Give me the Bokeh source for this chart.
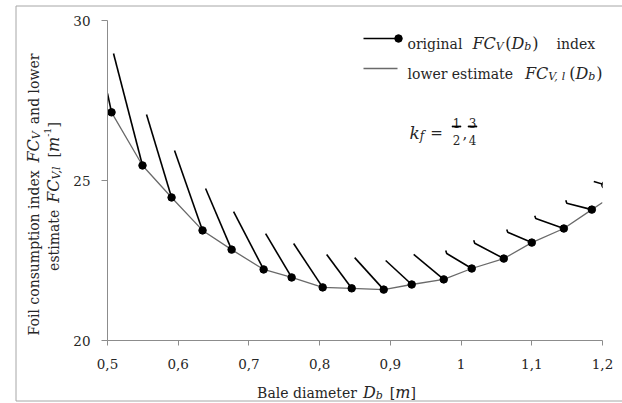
import math, glob, struct
from bokeh.plotting import figure
from bokeh.models import FixedTicker, Range1d
from bokeh.core.properties import value
from bokeh.embed import file_html
from bokeh.resources import INLINE

# ---------------- data ----------------
x_ticks = [0.5, 0.6, 0.7, 0.8, 0.9, 1.0, 1.1, 1.2]
x_tick_labels = ["0,5", "0,6", "0,7", "0,8", "0,9", "1", "1,1", "1,2"]
y_ticks = [20, 25, 30]
y_tick_labels = ["20", "25", "30"]

# original FC_V(D_b): one decreasing branch per segment, ending in a marker
seg_D = [
    [0.5000, 0.5057],
    [0.5085, 0.5495],
    [0.5552, 0.5906],
    [0.5948, 0.6344],
    [0.6387, 0.6755],
    [0.6783, 0.7208],
    [0.7236, 0.7604],
    [0.7632, 0.8043],
    [0.8099, 0.8453],
    [0.8495, 0.8906],
    [0.8934, 0.9302],
    [0.9330, 0.9755],
    [0.9783, 0.9797, 1.0151],
    [1.0179, 1.0193, 1.0604],
    [1.0646, 1.0660, 1.1000],
    [1.1042, 1.1056, 1.1453],
    [1.1481, 1.1495, 1.1849],
    [1.1877, 1.2040],
]
seg_FC = [
    [27.72, 27.13],
    [28.97, 25.47],
    [27.06, 24.47],
    [25.94, 23.44],
    [24.75, 22.84],
    [24.03, 22.22],
    [23.34, 21.97],
    [23.03, 21.66],
    [22.69, 21.63],
    [22.59, 21.59],
    [22.50, 21.75],
    [22.69, 21.91],
    [22.81, 22.72, 22.25],
    [23.13, 23.04, 22.56],
    [23.47, 23.38, 23.06],
    [23.90, 23.81, 23.50],
    [24.38, 24.29, 24.09],
    [24.97, 24.86],
]
dot_D = [0.5057, 0.5495, 0.5906, 0.6344, 0.6755, 0.7208, 0.7604, 0.8043, 0.8453,
         0.8906, 0.9302, 0.9755, 1.0151, 1.0604, 1.1000, 1.1453, 1.1849, 1.2040]
dot_FC = [27.13, 25.47, 24.47, 23.44, 22.84, 22.22, 21.97, 21.66, 21.63,
          21.59, 21.75, 21.91, 22.25, 22.56, 23.06, 23.50, 24.09, 24.86]

# lower estimate FC_V,l(D_b)
lower_D = [0.5057, 0.5495, 0.5906, 0.6344, 0.6755, 0.7208, 0.7604, 0.8043, 0.8453,
           0.8906, 0.9302, 0.9755, 1.0151, 1.0604, 1.1000, 1.1453, 1.1849, 1.2000]
lower_FC = [27.13, 25.47, 24.47, 23.44, 22.84, 22.22, 21.97, 21.66, 21.63,
            21.59, 21.75, 21.91, 22.25, 22.56, 23.06, 23.50, 24.09, 24.31]

# ---------------- layout (page pixels) ----------------
FX0, FX1, FY0, FY1 = 107, 602, 20, 340      # plot frame on the page
XMIN, XMAX, YMIN, YMAX = 0.5, 1.2, 20, 30
W_FIG, H_FIG = 622, 403

def dx(px):
    return XMIN + (px - FX0) / (FX1 - FX0) * (XMAX - XMIN)

def dy(py):
    return YMAX - (py - FY0) / (FY1 - FY0) * (YMAX - YMIN)

TXT = "#262626"
FONT = "DejaVu Serif"

p = figure(width=W_FIG, height=H_FIG,
           x_range=Range1d(XMIN, XMAX), y_range=Range1d(YMIN, YMAX),
           output_backend="svg", toolbar_location=None,
           min_border_left=FX0, min_border_right=W_FIG - FX1,
           min_border_top=FY0, min_border_bottom=H_FIG - FY1)
p.outline_line_color = None
p.xgrid.visible = False
p.ygrid.visible = False
p.background_fill_color = "white"
p.border_fill_color = "white"

for ax in (p.xaxis[0], p.yaxis[0]):
    ax.axis_line_color = "#8c8c8c"
    ax.major_tick_line_color = "#8c8c8c"
    ax.minor_tick_line_color = None
    ax.major_tick_in = 0
    ax.major_label_text_font = FONT
    ax.major_label_text_font_size = "13.5px"
    ax.major_label_text_color = TXT
p.xaxis.major_tick_out = 5
p.yaxis.major_tick_out = 6
p.xaxis.major_label_standoff = 13
p.yaxis.major_label_standoff = 11
p.xaxis.ticker = FixedTicker(ticks=x_ticks)
p.yaxis.ticker = FixedTicker(ticks=y_ticks)
p.xaxis.major_label_overrides = {t: s for t, s in zip(x_ticks, x_tick_labels)}
p.yaxis.major_label_overrides = {t: s for t, s in zip(y_ticks, y_tick_labels)}

# outer chart-area border (top, left, bottom edges)
p.line([dx(622), dx(15.5), dx(15.5), dx(622)], [dy(5.5), dy(5.5), dy(400.5), dy(400.5)],
       line_color="#a6a6a6", line_width=1, level="overlay")

# ---------------- marks ----------------
p.line(lower_D, lower_FC, line_color="#6a6a6a", line_width=1.3)
p.multi_line(seg_D, seg_FC, line_color="black", line_width=1.6)
p.scatter(dot_D, dot_FC, size=7.5, fill_color="black", line_color="black")

# ---------------- text width measurement (font file, fallback table) ----------------
W = {'a': .596, 'b': .640, 'c': .561, 'd': .640, 'e': .592, 'f': .370, 'g': .640, 'h': .644,
     'i': .320, 'k': .610, 'l': .320, 'm': .948, 'n': .644, 'o': .602, 'p': .640, 'r': .478,
     's': .513, 't': .402, 'u': .644, 'w': .856, 'x': .564, ' ': .318, 'B': .733, 'C': .733,
     'D': .830, 'F': .669, 'V': .722, '[': .390, ']': .390, '(': .390, ')': .390, ',': .318,
     '-': .338, '=': .838, '1': .636, '2': .636, '3': .636, '4': .636}

def load_widths(path):
    data = open(path, "rb").read()
    n_tab = struct.unpack(">H", data[4:6])[0]
    tabs = {}
    for i in range(n_tab):
        tag, _, off, ln = struct.unpack(">4sIII", data[12 + 16 * i: 28 + 16 * i])
        tabs[tag.decode("latin1")] = off
    upem = struct.unpack(">H", data[tabs["head"] + 18: tabs["head"] + 20])[0]
    nhm = struct.unpack(">H", data[tabs["hhea"] + 34: tabs["hhea"] + 36])[0]
    ho = tabs["hmtx"]
    adv = [struct.unpack(">H", data[ho + 4 * i: ho + 4 * i + 2])[0] for i in range(nhm)]
    co = tabs["cmap"]
    nsub = struct.unpack(">H", data[co + 2: co + 4])[0]
    sub = None
    for i in range(nsub):
        pid, eid, so = struct.unpack(">HHI", data[co + 4 + 8 * i: co + 12 + 8 * i])
        if struct.unpack(">H", data[co + so: co + so + 2])[0] == 4 and (pid, eid) in ((3, 1), (0, 3), (0, 4)):
            sub = co + so
            break
    segx2 = struct.unpack(">H", data[sub + 6: sub + 8])[0]
    ns = segx2 // 2
    ends = struct.unpack(f">{ns}H", data[sub + 14: sub + 14 + segx2])
    starts = struct.unpack(f">{ns}H", data[sub + 16 + segx2: sub + 16 + 2 * segx2])
    deltas = struct.unpack(f">{ns}h", data[sub + 16 + 2 * segx2: sub + 16 + 3 * segx2])
    rpos = sub + 16 + 3 * segx2
    roffs = struct.unpack(f">{ns}H", data[rpos: rpos + segx2])

    def gid(c):
        for i in range(ns):
            if ends[i] >= c:
                if starts[i] > c:
                    return 0
                if roffs[i] == 0:
                    return (c + deltas[i]) & 0xFFFF
                a = rpos + 2 * i + roffs[i] + 2 * (c - starts[i])
                g = struct.unpack(">H", data[a: a + 2])[0]
                return (g + deltas[i]) & 0xFFFF if g else 0
        return 0

    return lambda ch: adv[min(gid(ord(ch)), nhm - 1)] / upem

MEAS = {}
for style, name in (("normal", "DejaVuSerif.ttf"), ("italic", "DejaVuSerif-Italic.ttf")):
    try:
        f = glob.glob("/usr/share/fonts/**/" + name, recursive=True)
        if f:
            MEAS[style] = load_widths(f[0])
    except Exception:
        pass

def tw(s, size, style="normal"):
    fn = MEAS.get(style) or MEAS.get("normal")
    if fn:
        try:
            return sum(fn(c) for c in s) * size
        except Exception:
            pass
    return sum(W.get(c, .6) for c in s) * size

def put(text, px, py, size, style="normal", ang=0.0, align="left"):
    p.text(x=[dx(px)], y=[dy(py)], text=[text], text_font=value(FONT),
           text_font_size=value(f"{size}px"), text_font_style=value(style),
           text_color=TXT, text_baseline=value("alphabetic"),
           text_align=value(align), angle=ang, level="overlay")

def rich_len(pieces):
    return sum(pc[1] if pc[0] is None else tw(pc[0], pc[1], pc[2]) for pc in pieces)

def rich(pieces, x0, y0, rotated=False, center=False):
    pos = -rich_len(pieces) / 2 if center else 0.0
    for pc in pieces:
        if pc[0] is None:
            pos += pc[1]
            continue
        text, size, style, shift = pc
        if rotated:
            put(text, x0 + shift, y0 - pos, size, style, math.pi / 2)
        else:
            put(text, x0 + pos, y0 + shift, size, style, 0.0)
        pos += tw(text, size, style)

MS, SS = 16, 11   # math / subscript sizes

# x axis title (centred like the reference)
rich([("Bale diameter", 14, "normal", 0), (None, 6), ("D", MS, "italic", 0),
      ("b", SS, "italic", 3), (None, 7), ("[", 14, "normal", 0), ("m", MS, "italic", 0),
      ("]", 14, "normal", 0)], 336, 392, center=True)

# y axis title (two rotated lines, centred)
rich([("Foil consumption index", 14, "normal", 0), (None, 7), ("FC", MS, "italic", 0),
      ("V", SS, "italic", 3), (None, 7), ("and lower", 14, "normal", 0)], 33, 194,
     rotated=True, center=True)
rich([("estimate", 14, "normal", 0), (None, 7), ("FC", MS, "italic", 0),
      ("V,l", SS, "italic", 3), (None, 7), ("[", 14, "normal", 0), ("m", MS, "italic", 0),
      ("-1", 9.5, "normal", -6), ("]", 14, "normal", 0)], 53, 196, rotated=True, center=True)

# legend
p.line([dx(363), dx(398)], [dy(38), dy(38)], line_color="black", line_width=1.6)
p.scatter([dx(398)], [dy(38)], size=7.5, fill_color="black", line_color="black")
p.line([dx(363), dx(397)], [dy(68), dy(68)], line_color="#6a6a6a", line_width=1.3)

rich([("original", 14, "normal", 0), (None, 10), ("FC", MS, "italic", 0),
      ("V", SS, "italic", 3), (None, 1.5), ("(", MS, "normal", 0), ("D", MS, "italic", 0),
      ("b", SS, "italic", 3), (None, 1), (")", MS, "normal", 0), (None, 18),
      ("index", 14, "normal", 0)], 407, 43)
rich([("lower estimate", 14, "normal", 0), (None, 12), ("FC", MS, "italic", 0),
      ("V,", SS, "italic", 3), (None, 2), ("l", SS, "italic", 3), (None, 4),
      ("(", MS, "normal", 0), ("D", MS, "italic", 0),
      ("b", SS, "italic", 3), (None, 1), (")", MS, "normal", 0)], 407, 73)

# k_f = 1/2, 3/4
rich([("k", 17, "italic", 0), ("f", 12, "italic", 3), (None, 6), ("=", 15, "normal", 0)], 409, 132)
for cx, num, den in [(456, "1", "2"), (472, "3", "4")]:
    put(num, cx, 122, 12, align="center")
    put(den, cx, 139, 12, align="center")
    p.quad(left=[dx(cx - 4.5)], right=[dx(cx + 4.5)], top=[dy(125.4)], bottom=[dy(126.6)],
           fill_color="black", line_color="black", line_width=0.5, level="overlay")
put(",", 462, 133, 15)

open("out.html", "w").write(file_html(p, INLINE))
